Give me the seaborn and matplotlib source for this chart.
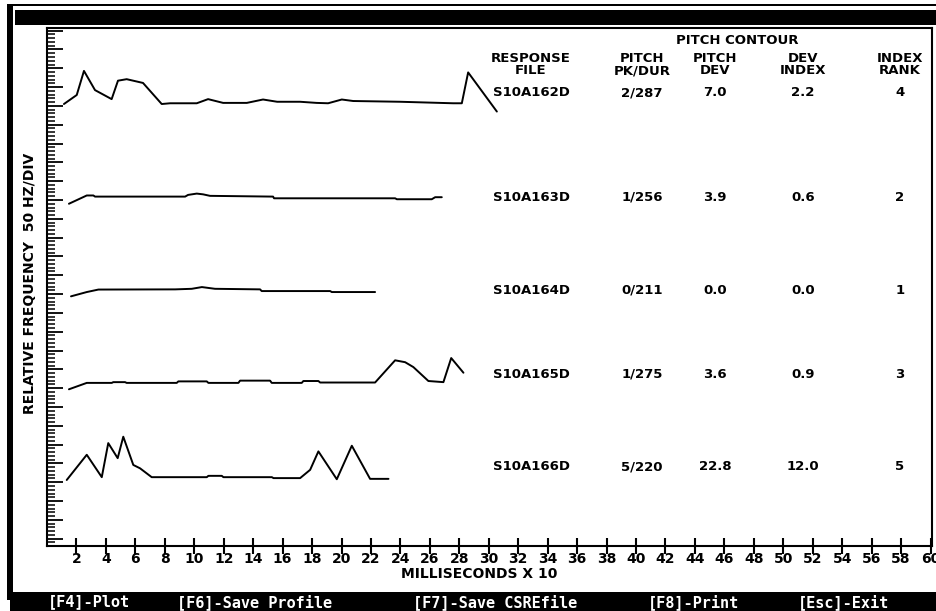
import matplotlib
matplotlib.use("Agg")
import matplotlib.pyplot as plt
import numpy as np
import pandas as pd
import seaborn as sns
from matplotlib.patches import Rectangle
from matplotlib.ticker import FixedLocator, NullLocator, NullFormatter

# ---- table values -------------------------------------------------------
files = ["S10A162D", "S10A163D", "S10A164D", "S10A165D", "S10A166D"]
pk_dur = ["2/287", "1/256", "0/211", "1/275", "5/220"]
pitch_dev = ["7.0", "3.9", "0.0", "3.6", "22.8"]
dev_index = ["2.2", "0.6", "0.0", "0.9", "12.0"]
index_rank = ["4", "2", "1", "3", "5"]

# vertical placement of each contour on the frequency axis (Hz)
offsets = [1159, 909, 662, 414, 163]

# ---- pitch contours: time (ms x 10) and relative frequency (Hz) ---------
t162 = [1.15, 2.02, 2.51, 3.26, 4.39, 4.82, 5.41, 6.52, 7.79, 8.36, 10.17,
        10.94, 11.96, 13.57, 14.67, 15.63, 17.19, 18.30, 19.09, 20.02, 20.79,
        23.98, 27.58, 28.17, 28.60, 30.55]
f162 = [-4, 20, 84, 33, 9, 58, 62, 52, -4, -2, -2,
        9, -1, -1, 8, 2, 2, -1, -2, 8, 4,
        2, -2, -2, 80, -24]

t163 = [1.49, 2.70, 3.15, 3.26, 9.38, 9.58, 10.17, 10.60, 11.07, 15.35,
        15.42, 23.64, 23.76, 26.13, 26.36, 26.81]
f163 = [-19, 3, 3, 0, 0, 4.5, 8, 6, 2, 0,
        -4.5, -4.5, -7, -7, -1.6, -1.6]

t164 = [1.63, 2.70, 3.49, 8.70, 9.83, 10.52, 11.41, 14.47, 14.58, 19.23,
        19.34, 22.28]
f164 = [-18, -6.6, 0, 0.5, 2, 6.6, 2, 0.5, -4, -4,
        -6.6, -6.6]

t165 = [1.49, 2.70, 4.40, 4.50, 5.30, 5.41, 8.81, 8.92, 10.85, 10.96,
        13.00, 13.11, 15.15, 15.26, 17.30, 17.41, 18.43, 18.55, 22.28, 23.64,
        24.32, 24.88, 25.90, 26.92, 27.45, 28.28]
f165 = [-17, 0, 0, 2, 2, 0, 0, 4, 4, 0,
        0, 6, 6, 0, 0, 5, 5, 1, 1, 60,
        55, 42, 5, 2, 66, 27]

t166 = [1.34, 2.70, 3.72, 4.16, 4.80, 5.18, 5.86, 6.32, 7.11, 10.85,
        10.96, 11.87, 11.98, 15.27, 15.38, 17.19, 17.87, 18.43, 19.68, 20.70,
        21.94, 23.19]
f166 = [-7, 60, 0.5, 91, 51, 108, 33, 24, 0.5, 0.5,
        4, 4, 0.5, 0.5, -2, -2, 20, 69, -5, 84,
        -4, -4]

x_ticks = list(range(2, 61, 2))

times = [t162, t163, t164, t165, t166]
freqs = [f162, f163, f164, f165, f166]

frames = []
for name, off, t, f in zip(files, offsets, times, freqs):
    frames.append(pd.DataFrame({"file": name, "time": t,
                                "freq": np.asarray(f, float) + off}))
df = pd.concat(frames, ignore_index=True)

# ---- figure -------------------------------------------------------------
sns.set_style("white")
plt.rcParams.update({
    "font.family": ["DejaVu Sans"],
    "font.weight": "bold",
    "text.color": "black",
    "xtick.color": "black",
    "ytick.color": "black",
    "axes.edgecolor": "black",
    "ytick.left": True,
    "ytick.minor.left": True,
    "xtick.bottom": True,
})

W, H = 937, 611
fig = plt.figure(figsize=(W / 100, H / 100), dpi=100)
fig.patch.set_facecolor("white")


def fx(x):
    return x / W


def fy(y):
    return 1 - y / H


ax = fig.add_axes([fx(47), fy(546), (932 - 47) / W, (546 - 28) / H])
ax.set_facecolor("white")

sns.lineplot(data=df, x="time", y="freq", units="file", estimator=None,
             sort=False, color="black", linewidth=1.4, legend=False, ax=ax)

ax.set_xlim(0, 60.1)
ax.set_ylim(-19.4, 1357)
ax.set_xticks(x_ticks)
ax.set_xticklabels([str(v) for v in x_ticks], fontsize=10,
                   fontweight="bold")
ax.xaxis.set_minor_locator(NullLocator())

# 50 Hz per division, 10 Hz sub-divisions
y_major = np.arange(0, 1351, 50)
y_minor = np.array([v for v in range(-10, 1351, 10) if v % 50 != 0])
ax.yaxis.set_major_locator(FixedLocator(y_major))
ax.yaxis.set_minor_locator(FixedLocator(y_minor))
ax.yaxis.set_major_formatter(NullFormatter())
ax.yaxis.set_minor_formatter(NullFormatter())
ax.yaxis.set_tick_params(which="major", direction="in", length=11.5,
                         width=1.3, left=True, right=False)
ax.yaxis.set_tick_params(which="minor", direction="in", length=6,
                         width=1.1, left=True, right=False, color="black")
ax.xaxis.set_tick_params(which="major", direction="inout", length=11,
                         width=1.5, pad=-1, bottom=True, top=False)
for s in ax.spines.values():
    s.set_color("black")
    s.set_linewidth(1.5)
ax.set_xlabel("")
ax.set_ylabel("")

# axis titles
fig.text(fx(479), fy(574), "MILLISECONDS X 10", ha="center", va="center",
         fontsize=10, fontweight="bold")
fig.text(fx(30), fy(283), "RELATIVE FREQUENCY  50 HZ/DIV", ha="center",
         va="center", rotation=90, fontsize=10, fontweight="bold")

# ---- results table ------------------------------------------------------
tfs = 9.5
fig.text(fx(737), fy(40), "PITCH CONTOUR", ha="center", va="center",
         fontsize=tfs, fontweight="bold")
col_x = [531, 642, 715, 803, 900]
head1 = ["RESPONSE", "PITCH", "PITCH", "DEV", "INDEX"]
head2 = ["FILE", "PK/DUR", "DEV", "INDEX", "RANK"]
for cx, h1, h2 in zip(col_x, head1, head2):
    fig.text(fx(cx), fy(59), h1, ha="center", va="center", fontsize=tfs,
             fontweight="bold")
    fig.text(fx(cx), fy(70.5), h2, ha="center", va="center", fontsize=tfs,
             fontweight="bold")

row_y = [93, 197, 290, 374, 467]
for i, ry in enumerate(row_y):
    vals = [files[i], pk_dur[i], pitch_dev[i], dev_index[i], index_rank[i]]
    for cx, v in zip(col_x, vals):
        fig.text(fx(cx), fy(ry), v, ha="center", va="center", fontsize=tfs,
                 fontweight="bold")

# ---- screen frame -------------------------------------------------------
def frect(x0, y0, x1, y1, color="black"):
    fig.patches.append(Rectangle((fx(x0), fy(y1)), (x1 - x0) / W,
                                 (y1 - y0) / H, transform=fig.transFigure,
                                 facecolor=color, edgecolor="none",
                                 zorder=5))


frect(7, 4, W, 6)        # outer top rule
frect(7, 4, 13, 600)     # outer left rule
frect(15, 10, W, 25)     # title strip
frect(10, 592, W, H)     # function-key strip

keys = [(48, "[F4]-Plot"), (177, "[F6]-Save Profile"),
        (413, "[F7]-Save CSREfile"), (648, "[F8]-Print"),
        (798, "[Esc]-Exit")]
for kx, label in keys:
    fig.text(fx(kx), fy(602), label, ha="left", va="center", color="white",
             fontsize=11, fontweight="bold", family=["DejaVu Sans Mono"],
             zorder=6)

fig.savefig("out.png", dpi=100, facecolor="white")
